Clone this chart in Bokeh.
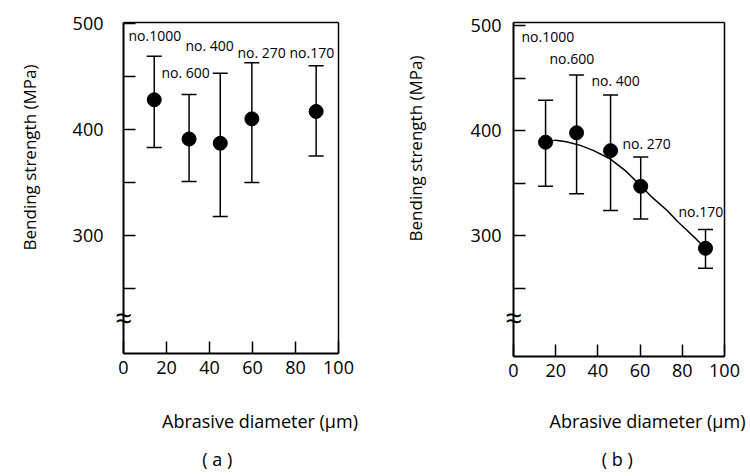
import math
from bokeh.plotting import figure
from bokeh.models import ColumnDataSource, Whisker, TeeHead, Label, FixedTicker, Range1d, LinearAxis
from bokeh.layouts import row
from bokeh.core.properties import value
from bokeh.embed import file_html
from bokeh.resources import INLINE

# ---------------- data ----------------
grit_a = ["no.1000", "no. 600", "no. 400", "no. 270", "no.170"]
diam_a = [14.3, 30.5, 45.0, 59.7, 89.6]
mean_a = [428, 391, 387, 410, 417]
upper_a = [469, 433, 453, 463, 460]
lower_a = [383, 351, 318, 350, 375]

grit_b = ["no.1000", "no.600", "no. 400", "no. 270", "no.170"]
diam_b = [15.2, 29.9, 46.0, 60.3, 91.0]
mean_b = [389, 398, 381, 347, 288]
upper_b = [429, 453, 434, 375, 306]
lower_b = [347, 340, 324, 316, 269]

curve_x = [15.2, 20, 25, 31.7, 38, 45.9, 53, 60.1, 66, 72.8, 78, 82.3, 87, 91.0]
curve_y = [389, 391, 389.5, 386, 381, 373, 362, 348, 336, 324, 313, 305, 296, 288]

x_ticks = [0, 20, 40, 60, 80, 100]
y_ticks = [250, 300, 350, 400, 450, 500]
y_tick_labels = {250: "", 300: "300", 350: "", 400: "400", 450: "", 500: "500"}

FONT = "Open Sans"
W, H = 375, 476


def make_panel(page_x0, frame, yr, std_y, grits, diam, mean, upper, lower,
               label_pos, title_pos, ytitle_pos, cap_pos, cap_text, break_y):
    # frame: box of the plot area in page pixels (left, right, top, bottom)
    fx0, fx1, fy0, fy1 = frame
    xr = (0, 100)
    kx = (fx1 - fx0) / (xr[1] - xr[0])
    ky = (fy1 - fy0) / (yr[1] - yr[0])
    cx0 = fx0 - page_x0
    x_start = xr[0] - cx0 / kx
    x_end = xr[0] + (W - cx0) / kx
    y_end = yr[1] + fy0 / ky
    y_start = yr[1] - (H - fy0) / ky

    def to_data(sx, sy):
        return xr[0] + (sx - fx0) / kx, yr[1] - (sy - fy0) / ky

    p = figure(width=W, height=H, output_backend="svg", toolbar_location=None,
               x_range=Range1d(x_start, x_end), y_range=Range1d(y_start, y_end),
               x_axis_location=None, y_axis_location=None,
               min_border=0, min_border_left=0, min_border_right=0,
               min_border_top=0, min_border_bottom=0)
    p.grid.visible = False
    p.outline_line_color = None
    p.background_fill_color = "white"
    p.border_fill_color = "white"

    def style(ax, ticks, labels=True):
        ax.ticker = FixedTicker(ticks=ticks)
        ax.minor_tick_line_color = None
        ax.major_tick_in = 12
        ax.major_tick_out = 0
        ax.major_tick_line_width = 1.5
        ax.axis_line_width = 2
        ax.axis_line_color = "black"
        ax.major_tick_line_color = "black"
        ax.major_label_text_font = FONT
        ax.major_label_text_font_size = "18px"
        ax.major_label_text_color = "black" if labels else None

    left = LinearAxis(fixed_location=xr[0], bounds=yr)
    style(left, y_ticks)
    left.major_label_overrides = y_tick_labels
    left.major_label_standoff = std_y
    p.add_layout(left, "left")

    bottom = LinearAxis(fixed_location=yr[0], bounds=xr)
    style(bottom, x_ticks)
    bottom.major_label_standoff = 7
    p.add_layout(bottom, "below")

    top = LinearAxis(fixed_location=yr[1], bounds=xr)
    style(top, [], labels=False)
    top.axis_line_width = 1.5
    p.add_layout(top, "above")

    right = LinearAxis(fixed_location=xr[1], bounds=yr)
    style(right, [], labels=False)
    right.axis_line_width = 1.5
    p.add_layout(right, "right")

    src = ColumnDataSource(dict(x=diam, mean=mean, upper=upper, lower=lower))
    w = Whisker(base="x", upper="upper", lower="lower", source=src, line_width=1.5,
                line_color="black",
                upper_head=TeeHead(size=15, line_width=1.5, line_color="black"),
                lower_head=TeeHead(size=15, line_width=1.5, line_color="black"))
    p.add_layout(w)
    p.scatter("x", "mean", source=src, size=14, color="black")

    lx, ly = [], []
    for (sx, sy) in label_pos:
        dx, dy = to_data(sx, sy)
        lx.append(dx)
        ly.append(dy)
    p.text(x=lx, y=ly, text=grits, text_font=value(FONT), text_font_size="14px",
           text_baseline="middle", text_align="left", text_color="black")

    tx, ty = to_data(*title_pos)
    p.add_layout(Label(x=tx, y=ty, text="Abrasive diameter (μm)", text_font=FONT,
                       text_font_size="18px", text_align="center", text_baseline="middle",
                       text_color="black"))
    yx, yy = to_data(*ytitle_pos)
    p.add_layout(Label(x=yx, y=yy, text="Bending strength (MPa)", text_font=FONT,
                       text_font_size="17px", text_align="center", text_baseline="middle",
                       angle=math.pi / 2, text_color="black"))
    cx, cy = to_data(*cap_pos)
    p.add_layout(Label(x=cx, y=cy, text=cap_text, text_font=FONT,
                       text_font_size="18px", text_align="center", text_baseline="middle",
                       text_color="black"))
    p.add_layout(Label(x=xr[0], y=break_y, text="≈", text_font=FONT,
                       text_font_size="30px", text_align="center", text_baseline="middle",
                       text_color="black"))
    return p


pa = make_panel(0, (123, 338, 22, 353), (188.7, 500.9), 20,
                grit_a, diam_a, mean_a, upper_a, lower_a,
                [(128, 35), (161, 72), (185, 45), (237, 52), (289, 52)],
                (259.5, 420), (29, 157), (216.7, 458), "( a )", 223)

pb = make_panel(375, (513, 724, 22, 356), (185, 503), 12,
                grit_b, diam_b, mean_b, upper_b, lower_b,
                [(521, 36), (549, 58), (591, 80), (622, 143), (678, 211)],
                (647, 420), (415, 148), (616.7, 458), "( b )", 222)
pb.line(curve_x, curve_y, line_color="black", line_width=1.5)

layout = row(pa, pb)
open("out.html", "w").write(file_html(layout, INLINE))
